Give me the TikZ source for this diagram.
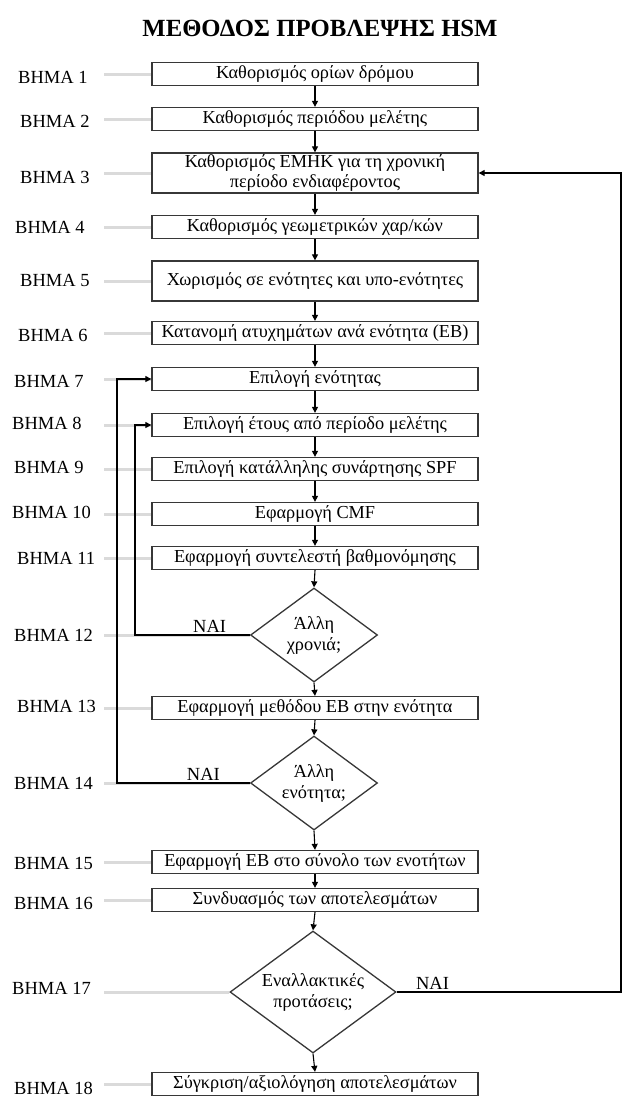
\documentclass[tikz,border=0pt]{standalone}
\usepackage{fontspec}
\setmainfont{Liberation Serif}
\definecolor{boxgray}{RGB}{55,55,55}
\definecolor{guidegray}{RGB}{218,218,218}
\usetikzlibrary{arrows.meta,shapes.geometric,positioning,backgrounds,calc}

\begin{document}
\begin{tikzpicture}[x=1pt,y=-1pt,
        stepbox/.style={rectangle,draw=boxgray,line width=1.3pt,fill=white,
              minimum width=326pt,minimum height=23pt,inner xsep=1pt,inner ysep=0pt,
              align=center,font=\fontsize{18.3}{20}\selectfont},
        choice/.style={diamond,draw=boxgray,line width=1.3pt,fill=white,inner sep=0pt,
              shape aspect=1.35,align=center,font=\fontsize{18.3}{21}\selectfont},
        lbl/.style={anchor=west,inner sep=0pt,font=\fontsize{18.5}{20}\selectfont},
        yes/.style={above,inner sep=2pt,font=\fontsize{18.5}{20}\selectfont},
        guide/.style={guidegray,line width=3pt},
        link/.style={-{Triangle[length=6pt,width=6pt]},line width=1.1pt}]

        \useasboundingbox (0,0) rectangle (622,1096);

        \node[font=\fontsize{24.7}{28}\selectfont\bfseries] (title) at (320,28) {ΜΕΘΟΔΟΣ ΠΡΟΒΛΕΨΗΣ HSM};

        % steps
        \node[stepbox] (s1)  at (315,74)   {Καθορισμός ορίων δρόμου};
        \node[stepbox] (s2)  at (315,119)  {Καθορισμός περιόδου μελέτης};
        \node[stepbox,minimum height=40pt] (s3) at (315,173) {Καθορισμός ΕΜΗΚ για τη χρονική\\περίοδο ενδιαφέροντος};
        \node[stepbox] (s4)  at (315,227)  {Καθορισμός γεωμετρικών χαρ/κών};
        \node[stepbox,minimum height=40pt] (s5) at (315,281) {Χωρισμός σε ενότητες και υπο-ενότητες};
        \node[stepbox] (s6)  at (315,333)  {Κατανομή ατυχημάτων ανά ενότητα (ΕΒ)};
        \node[stepbox] (s7)  at (315,379)  {Επιλογή ενότητας};
        \node[stepbox] (s8)  at (315,425)  {Επιλογή έτους από περίοδο μελέτης};
        \node[stepbox] (s9)  at (315,469)  {Επιλογή κατάλληλης συνάρτησης SPF};
        \node[stepbox] (s10) at (315,514)  {Εφαρμογή CMF};
        \node[stepbox] (s11) at (315,558)  {Εφαρμογή συντελεστή βαθμονόμησης};
        \node[choice,minimum width=127pt,minimum height=94pt] (s12) at (314,635) {Άλλη\\χρονιά;};
        \node[stepbox] (s13) at (315,708)  {Εφαρμογή μεθόδου ΕΒ στην ενότητα};
        \node[choice,minimum width=127pt,minimum height=94pt] (s14) at (314,783) {Άλλη\\ενότητα;};
        \node[stepbox] (s15) at (315,862)  {Εφαρμογή ΕΒ στο σύνολο των ενοτήτων};
        \node[stepbox] (s16) at (315,900)  {Συνδυασμός των αποτελεσμάτων};
        \node[choice,minimum width=166pt,minimum height=122pt] (s17) at (313,992) {Εναλλακτικές\\προτάσεις;};
        \node[stepbox] (s18) at (315,1084) {Σύγκριση/αξιολόγηση αποτελεσμάτων};

        % step labels
        \node[lbl] (l1)  at (18,77)   {ΒΗΜΑ 1};
        \node[lbl] (l2)  at (20,121)  {ΒΗΜΑ 2};
        \node[lbl] (l3)  at (20,177)  {ΒΗΜΑ 3};
        \node[lbl] (l4)  at (15,227)  {ΒΗΜΑ 4};
        \node[lbl] (l5)  at (20,280)  {ΒΗΜΑ 5};
        \node[lbl] (l6)  at (18,335)  {ΒΗΜΑ 6};
        \node[lbl] (l7)  at (14,381)  {ΒΗΜΑ 7};
        \node[lbl] (l8)  at (12,423)  {ΒΗΜΑ 8};
        \node[lbl] (l9)  at (14,467)  {ΒΗΜΑ 9};
        \node[lbl] (l10) at (12,512)  {ΒΗΜΑ 10};
        \node[lbl] (l11) at (17,558)  {ΒΗΜΑ 11};
        \node[lbl] (l12) at (14,635)  {ΒΗΜΑ 12};
        \node[lbl] (l13) at (17,706)  {ΒΗΜΑ 13};
        \node[lbl] (l14) at (14,783)  {ΒΗΜΑ 14};
        \node[lbl] (l15) at (14,863)  {ΒΗΜΑ 15};
        \node[lbl] (l16) at (14,903)  {ΒΗΜΑ 16};
        \node[lbl] (l17) at (12,988)  {ΒΗΜΑ 17};
        \node[lbl] (l18) at (14,1088) {ΒΗΜΑ 18};

        \coordinate (gx) at (104,0);
        \coordinate (lp1) at (135,0);
        \coordinate (lp2) at (117,0);
        \coordinate (rx) at (621,0);

        \begin{scope}[on background layer]
            \foreach \n in {1,...,18}
                \draw[guide] (s\n.west) -- (gx |- s\n.west);
        \end{scope}

        \foreach \a/\b in {1/2,2/3,3/4,4/5,5/6,6/7,7/8,8/9,9/10,10/11,11/12,12/13,13/14,14/15,15/16,16/17,17/18}
            \draw[link] (s\a.south) -- (s\b.north);

        \draw[link] (s12.west) -- node[yes,pos=0.35] {ΝΑΙ} (s12.west -| lp1) |- (s8.west);
        \draw[link] (s14.west) -- node[yes,pos=0.35] {ΝΑΙ} (s14.west -| lp2) |- (s7.west);
        \draw[link] (s17.east) -- node[yes,pos=0.16] {ΝΑΙ} (s17.east -| rx) |- (s3.east);

    \end{tikzpicture}
\end{document}
